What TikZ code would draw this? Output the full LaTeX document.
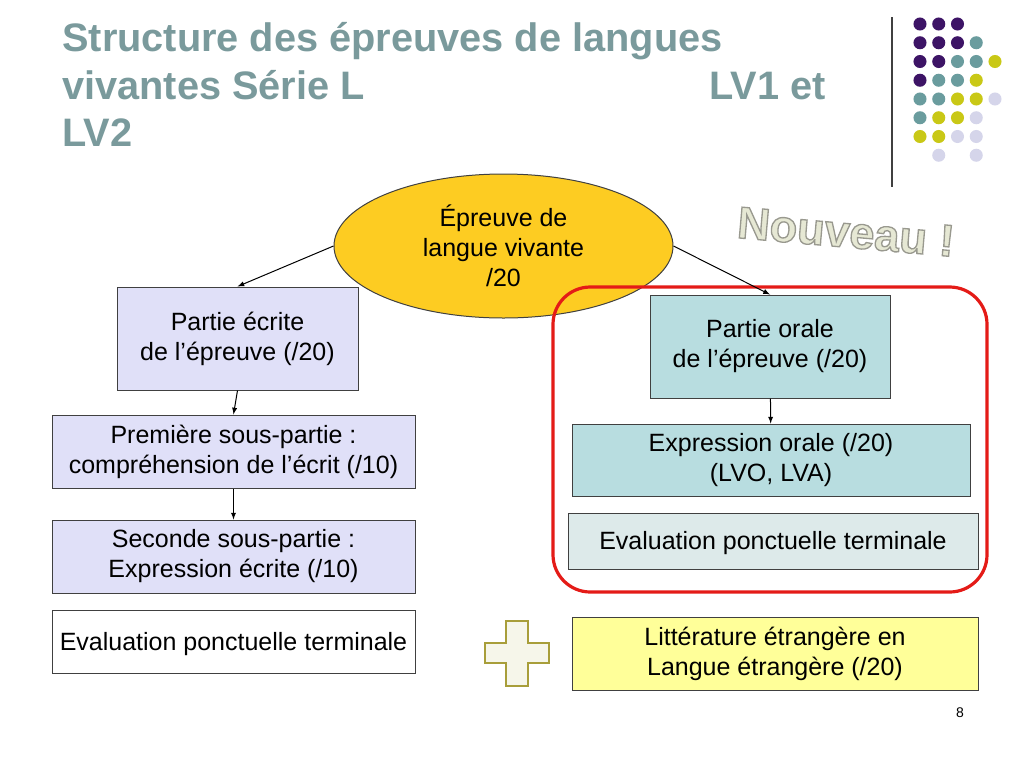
\documentclass[tikz,border=0pt]{standalone}
\usepackage{fontspec}
\setmainfont{Liberation Sans}
\usetikzlibrary{arrows,positioning,shapes,fit,calc}
\pgfdeclarelayer{background}
\pgfsetlayers{background,main}

\definecolor{titlegray}{HTML}{7A9A9C}
\definecolor{ellgold}{HTML}{FDCC22}
\definecolor{lavbox}{HTML}{E0E0F8}
\definecolor{tealbox}{HTML}{B8DDE0}
\definecolor{paleteal}{HTML}{DDEAEA}
\definecolor{paleyellow}{HTML}{FFFF99}
\definecolor{framered}{HTML}{E41B17}
\definecolor{boxline}{HTML}{404040}
\definecolor{dotP}{HTML}{3D1466}
\definecolor{dotT}{HTML}{6A9C9E}
\definecolor{dotY}{HTML}{C9C816}
\definecolor{dotL}{HTML}{D5D5EA}
\definecolor{crossfill}{HTML}{F6F6EA}
\definecolor{crossline}{HTML}{A89E3A}
\definecolor{wordfill}{HTML}{E6E8D4}

\begin{document}
\begin{tikzpicture}[
				x=0.75pt,y=-0.75pt,
				box/.style={draw=boxline,line width=0.75pt,rectangle,inner sep=0pt,align=center,
					font=\fontsize{18.75}{22.5}\selectfont,
					execute at begin node={\rule{0pt}{17pt}},
					execute at end node={\rule[-4pt]{0pt}{4pt}}},
				ecritebox/.style={box,fill=lavbox},
				oralebox/.style={box,fill=tealbox},
				titleline/.style={anchor=base west,inner sep=0pt,text=titlegray,
					font=\fontsize{29.8}{34.5}\selectfont\bfseries},
				>=latex
				]
				\useasboundingbox (0,0) rectangle (1024,768);
				
				% title
				\node[titleline] (t1) at (62,51) {Structure des épreuves de langues};
				\node[titleline] (t2) at (62,99) {vivantes Série L};
				\node[titleline] (t2b) at (709,99) {LV1 et};
				\node[titleline] (t3) at (62,146) {LV2};
				
				% the dots in the corner
				\draw[boxline,line width=1.1pt] (892,17) -- (892,187);
				\foreach \cl/\pts in {dotP/{0/0,1/0,2/0,0/1,1/1,2/1,0/2,1/2,0/3},
					dotT/{3/1,2/2,3/2,1/3,2/3,0/4,1/4,0/5},
					dotY/{4/2,3/3,2/4,3/4,1/5,2/5,0/6,1/6},
					dotL/{4/4,3/5,2/6,3/6,1/7,3/7}}
				{\foreach \c/\r in \pts {\fill[\cl] (920+18.75*\c,24+18.75*\r) circle (4.9pt);}}
				
				% the top
				\node[ellipse,draw=boxline,line width=0.75pt,fill=ellgold,inner sep=0pt,
					minimum width=254.25pt,minimum height=108pt,align=center,
					font=\fontsize{18.75}{22.5}\selectfont] (ell) at (503.5,246)
					{Épreuve de\\langue vivante\\/20};
				
				% left side
				\node[ecritebox,minimum width=180.75pt,minimum height=77.25pt] (ecrite) at (237.5,338.5)
					{Partie écrite\\de l’épreuve (/20)};
				\node[ecritebox,minimum width=272.25pt,minimum height=54.75pt] (premiere) at (233.5,451.5)
					{Première sous-partie :\\compréhension de l’écrit (/10)};
				\node[ecritebox,minimum width=272.25pt,minimum height=54.75pt] (seconde) at (233.5,556.5)
					{Seconde sous-partie :\\Expression écrite (/10)};
				\node[box,fill=white,minimum width=272.25pt,minimum height=47.25pt] (evalg) at (233.5,641.5)
					{Evaluation ponctuelle terminale};
				
				% right side
				\node[oralebox,minimum width=180pt,minimum height=77.25pt] (orale) at (770,346.5)
					{Partie orale\\de l’épreuve (/20)};
				\node[oralebox,minimum width=298.5pt,minimum height=54pt] (expr) at (771,460)
					{Expression orale (/20)\\(LVO, LVA)};
				\node[box,fill=paleteal,minimum width=307.5pt,minimum height=42pt] (evald) at (773,541)
					{Evaluation ponctuelle terminale};
				\node[draw=framered,line width=2.4pt,rounded corners=28pt,inner sep=0pt,
					minimum width=325.5pt,minimum height=228.75pt] (nouveauframe) at (770,439.5) {};
				\node[box,fill=paleyellow,minimum width=304.5pt,minimum height=54.75pt] (litt) at (775,653.5)
					{Littérature étrangère en\\Langue étrangère (/20)};
				
				% the plus sign
				\draw[crossline,fill=crossfill,line width=1.1pt] (506,621) -- (528,621) -- (528,643)
					-- (549,643) -- (549,663) -- (528,663) -- (528,686) -- (506,686) -- (506,663)
					-- (485,663) -- (485,643) -- (506,643) -- cycle;
				
				% nouveau
				\node[rotate=-5,inner sep=0pt,font=\fontsize{33.75}{36}\selectfont\bfseries] (nouveau) at (846,232)
					{\textcolor{wordfill}{\special{pdf:literal direct 2 Tr 1 w 0.6 0.6 0.56 RG}Nouveau !\special{pdf:literal direct 0 Tr}}};
				
				% the arrows
				\draw[->,line width=0.75pt] (ell.west) -- (ecrite.north);
				\draw[->,line width=0.75pt] (ell.east) -- (orale.north);
				\draw[->,line width=0.75pt] (ecrite.south) -- (premiere.north);
				\draw[->,line width=0.75pt] (premiere) -- (seconde);
				\draw[->,line width=0.75pt] (orale) -- (expr);
				
				% page number
				\node[font=\fontsize{10.5}{12}\selectfont] (pagenum) at (960,713) {8};
\end{tikzpicture}
\end{document}
